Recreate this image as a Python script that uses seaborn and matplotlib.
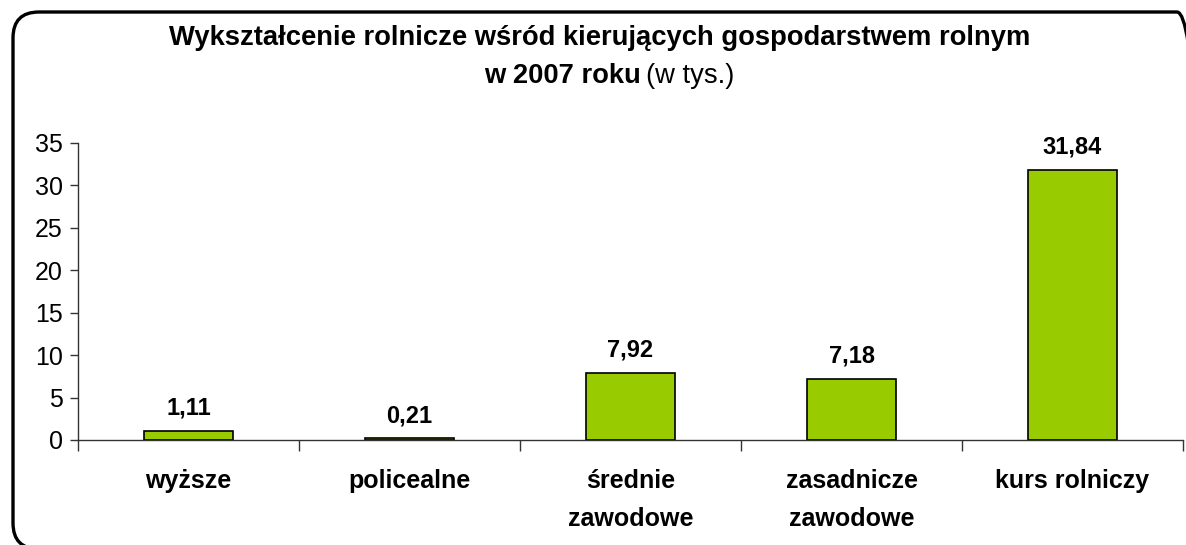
import matplotlib
matplotlib.use('Agg')
import matplotlib.pyplot as plt
import seaborn as sns
import pandas as pd
from matplotlib.patches import FancyBboxPatch
from matplotlib.transforms import IdentityTransform

# Data (thousands)
categories = ['wyższe', 'policealne', 'średnie\nzawodowe', 'zasadnicze\nzawodowe', 'kurs rolniczy']
values = [1.11, 0.21, 7.92, 7.18, 31.84]
yticks = [0, 5, 10, 15, 20, 25, 30, 35]

df = pd.DataFrame({'kat': categories, 'val': values})

sns.set_style('white')
plt.rcParams['font.family'] = ['Liberation Sans', 'DejaVu Sans']
plt.rcParams['text.color'] = 'black'
plt.rcParams['xtick.color'] = 'black'
plt.rcParams['ytick.color'] = 'black'

fig = plt.figure(figsize=(11.86, 5.45), dpi=100)
ax = fig.add_axes([0.0658, 0.1927, 0.9317, 0.545])

sns.barplot(data=df, x='kat', y='val', color='#99CC00', width=0.4,
            edgecolor='black', linewidth=1.2, saturation=1, ax=ax)

ax.set_ylim(0, 35)
ax.set_xlim(-0.5, len(categories) - 0.5)
ax.set_yticks(yticks)
ax.set_yticklabels([str(t) for t in yticks], fontsize=18)
ax.set_xlabel('')
ax.set_ylabel('')

# category labels, ticks between categories
ax.set_xticks(range(len(categories)))
ax.set_xticklabels(categories, fontsize=18, fontweight='bold', linespacing=1.75)
ax.set_xticks([i - 0.5 for i in range(len(categories) + 1)], minor=True)
ax.tick_params(axis='x', which='major', bottom=True, length=0, pad=21)
ax.tick_params(axis='x', which='minor', bottom=True, length=8, width=1,
               direction='out', color='#333333')
ax.tick_params(axis='y', left=True, length=6, width=1, direction='out',
               color='#333333', pad=5)

for s in ['top', 'right']:
    ax.spines[s].set_visible(False)
for s in ['left', 'bottom']:
    ax.spines[s].set_color('#333333')
    ax.spines[s].set_linewidth(1)

labels = [f'{v:.2f}'.replace('.', ',') for v in values]
ax.bar_label(ax.containers[0], labels=labels, padding=8, fontsize=17, fontweight='bold')

# title
fig.text(0.506, 0.93, 'Wykształcenie rolnicze wśród kierujących gospodarstwem rolnym',
         ha='center', va='center', fontsize=19.7, fontweight='bold')
fig.text(0.540, 0.861, 'w 2007 roku', ha='right', va='center', fontsize=19.7, fontweight='bold')
fig.text(0.545, 0.861, '(w tys.)', ha='left', va='center', fontsize=19.7)

# rounded frame around the chart (pixel coordinates, partly outside the image)
frame = FancyBboxPatch((13, -4), 1190, 537, transform=IdentityTransform(),
                       boxstyle='round,pad=0,rounding_size=26',
                       fill=False, edgecolor='black', linewidth=2.4, clip_on=False)
fig.patches.append(frame)

fig.savefig('out.png', dpi=100)
